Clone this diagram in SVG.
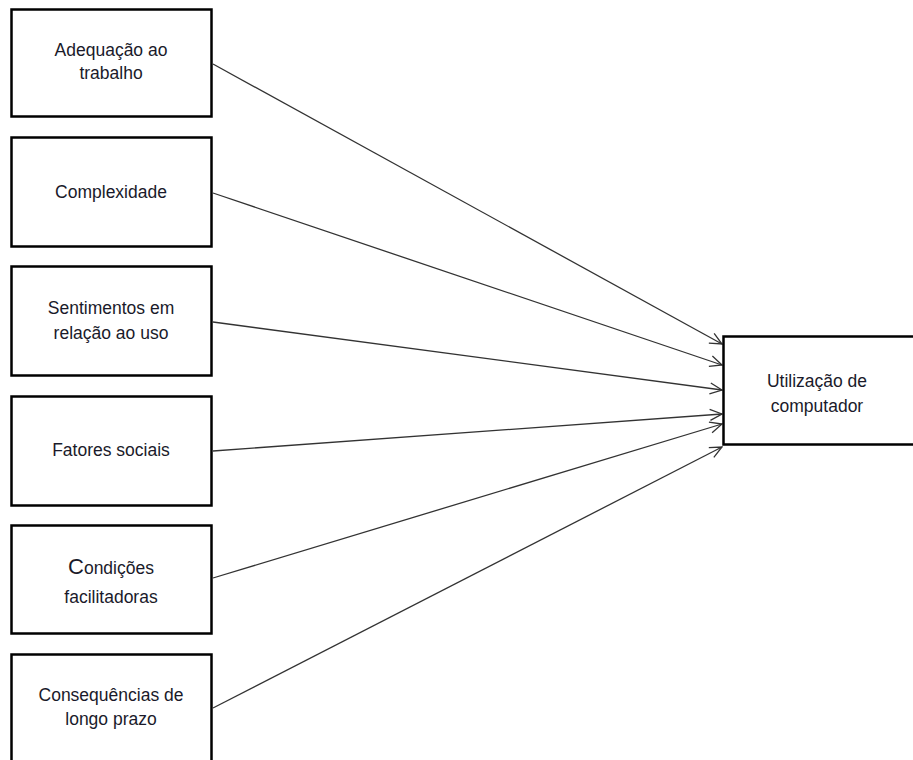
<svg xmlns="http://www.w3.org/2000/svg" width="913" height="760" viewBox="0 0 913 760">
<style>
.box{fill:#fff;stroke:#000;stroke-width:2.5}
.t{font-family:"Liberation Sans",Arial,sans-serif;font-size:17.5px;fill:#1a1a2a;text-anchor:middle}
.c{stroke:#333;stroke-width:1.3;fill:none}
</style>
<defs>
<marker id="arr" viewBox="0 0 14 14" refX="13" refY="7" markerWidth="14" markerHeight="14" markerUnits="userSpaceOnUse" orient="auto">
<path d="M1,1.5 L13,7 L1,12.5" fill="none" stroke="#333" stroke-width="1.3"/>
</marker>
</defs>
<g id="connectors">
<line class="c" x1="213" y1="64" x2="722" y2="344" marker-end="url(#arr)"/>
<line class="c" x1="213" y1="193" x2="722" y2="365" marker-end="url(#arr)"/>
<line class="c" x1="213" y1="322" x2="722" y2="390" marker-end="url(#arr)"/>
<line class="c" x1="213" y1="451" x2="722" y2="414" marker-end="url(#arr)"/>
<line class="c" x1="213" y1="578" x2="722" y2="424" marker-end="url(#arr)"/>
<line class="c" x1="213" y1="708" x2="722" y2="447" marker-end="url(#arr)"/>
</g>
<g id="n1"><rect class="box" x="11.5" y="9.5" width="200" height="107"/>
<text class="t" x="111" y="56">Adequação ao</text><text class="t" x="111" y="79">trabalho</text></g>
<g id="n2"><rect class="box" x="11.5" y="137.5" width="200" height="109"/>
<text class="t" x="111" y="198">Complexidade</text></g>
<g id="n3"><rect class="box" x="11.5" y="266.5" width="200" height="109"/>
<text class="t" x="111" y="314">Sentimentos em</text><text class="t" x="111" y="339">relação ao uso</text></g>
<g id="n4"><rect class="box" x="11.5" y="396.5" width="200" height="109"/>
<text class="t" x="111" y="456">Fatores sociais</text></g>
<g id="n5"><rect class="box" x="11.5" y="525.5" width="200" height="108"/>
<text class="t" x="111" y="574"><tspan font-size="22px">C</tspan>ondições</text><text class="t" x="111" y="603">facilitadoras</text></g>
<g id="n6"><rect class="box" x="11.5" y="654.5" width="200" height="120"/>
<text class="t" x="111" y="701">Consequências de</text><text class="t" x="111" y="725">longo prazo</text></g>
<g id="n7"><rect class="box" x="723.5" y="336.5" width="200" height="108"/>
<text class="t" x="817" y="387">Utilização de</text><text class="t" x="817" y="412">computador</text></g>
</svg>
